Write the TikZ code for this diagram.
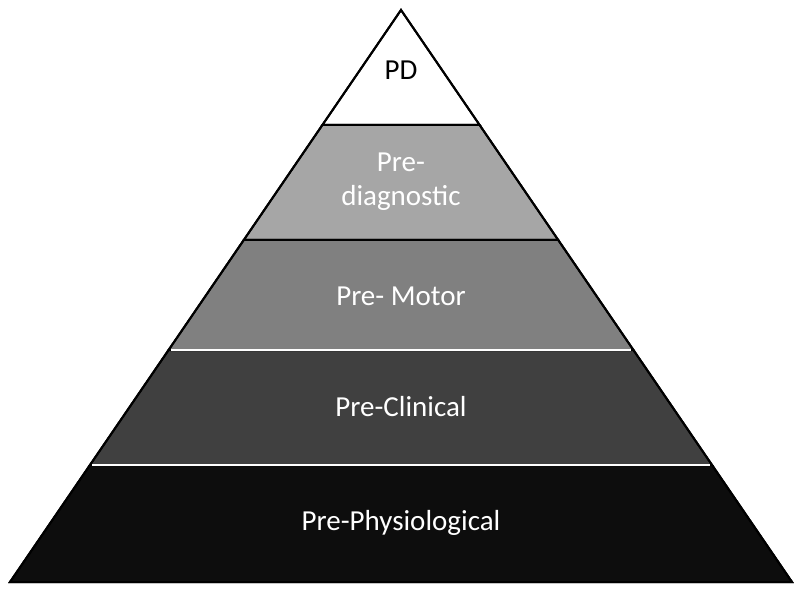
\documentclass[tikz,border=0pt]{standalone}
\usepackage{fontspec}
\setmainfont{Carlito}
\usepackage{tikz}
\usetikzlibrary{calc}

\begin{document}
\begin{tikzpicture}[
  x=1pt, y=-1pt,
  layer/.style={draw=black, line width=2pt, line join=miter},
  lbl/.style={font=\fontsize{29}{34}\selectfont, align=center},
]
\useasboundingbox (0,0) rectangle (800,593);
% Corners of the pyramid
\coordinate (apex) at (401,10);
\coordinate (bl) at (10,582);
\coordinate (br) at (792,582);
\newcommand{\lx}[1]{401-(#1-10)*0.68357}
\newcommand{\rx}[1]{401+(#1-10)*0.68357}

% Layers
\fill[layer, fill=white] (apex) -- ({\rx{125}},125) -- ({\lx{125}},125) -- cycle;
\fill[layer, fill=black!35] ({\lx{125}},125) -- ({\rx{125}},125) -- ({\rx{240}},240) -- ({\lx{240}},240) -- cycle;
\fill[layer, fill=black!50] ({\lx{240}},240) -- ({\rx{240}},240) -- ({\rx{350}},350) -- ({\lx{350}},350) -- cycle;
\fill[layer, fill=black!75] ({\lx{350}},350) -- ({\rx{350}},350) -- ({\rx{465}},465) -- ({\lx{465}},465) -- cycle;
\fill[layer, fill=black!95] ({\lx{465}},465) -- ({\rx{465}},465) -- (br) -- (bl) -- cycle;

% Outline and separators
\draw[line width=2pt] ({\lx{125}},125) -- ({\rx{125}},125);
\draw[line width=2pt] ({\lx{240}},240) -- ({\rx{240}},240);
\draw[white, line width=2.5pt] ({\lx{350}+2},350) -- ({\rx{350}-2},350);
\draw[white, line width=2.5pt] ({\lx{465}+2},465) -- ({\rx{465}-2},465);
\draw[line width=2pt, line join=miter] (apex) -- (br) -- (bl) -- cycle;

% Labels
\node[lbl] (pd) at (401,70) {PD};
\node[lbl, white] (prediag) at (401,182) {Pre-\\diagnostic};
\node[lbl, white] (premotor) at (401,296) {Pre- Motor};
\node[lbl, white] (preclin) at (401,407) {Pre-Clinical};
\node[lbl, white] (prephys) at (401,523) {Pre-Physiological};
\end{tikzpicture}
\end{document}
